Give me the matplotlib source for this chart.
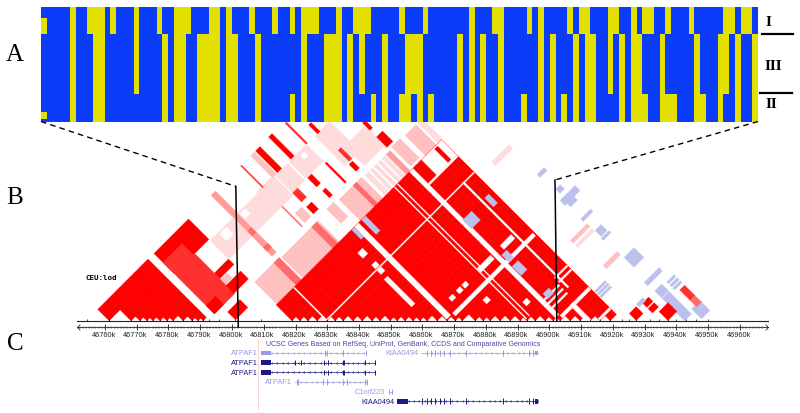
import numpy as np
import matplotlib
matplotlib.use("Agg")
import matplotlib.pyplot as plt
from matplotlib.collections import PolyCollection
from matplotlib.colors import ListedColormap
from matplotlib.path import Path

# ---------- Panel A: haplotype matrix (indices of yellow columns, per block) ----------
N_COLS = 124
BLOCK_I = [5, 8, 9, 10, 12, 16, 20, 23, 24, 25, 29, 30, 32, 36, 40, 43, 45, 46, 47, 51, 54, 55, 56,
           62, 66, 74, 78, 79, 84, 86, 91, 93, 94, 98, 99, 102, 104, 105, 108, 112, 118, 119, 121, 122]
BLOCK_III = [5, 9, 10, 16, 21, 23, 24, 27, 28, 29, 30, 32, 33, 37, 45, 49, 50, 51, 53, 55, 59,
             63, 64, 65, 72, 74, 76, 79, 86, 88, 92, 94, 95, 98, 100, 102, 103, 107, 113, 117, 118, 120, 123]
BLOCK_II = [5, 9, 10, 21, 23, 24, 27, 28, 29, 30, 32, 33, 37, 43, 45, 49, 50, 51, 53, 57, 59,
            62, 63, 65, 67, 72, 74, 76, 79, 83, 86, 88, 90, 92, 94, 95, 100, 102, 103, 104,
            107, 108, 109, 113, 114, 117, 120, 123]
ROW_GROUPS = [(BLOCK_I, 11), (BLOCK_I + [0], 16), (BLOCK_III, 59),
              (BLOCK_II, 18), (BLOCK_II + [0], 7), (BLOCK_II, 3)]

# ---------- Panel B: LD plot, genomic position in kb above 46700k ----------
SNP_LEFT = [54.3, 61.3, 68.2, 71, 73.2, 75.1, 77.3, 79.5, 81.4, 84.6, 87.4, 89.3, 90.9, 92.8]
SNP_MAIN = [109.1, 118.9, 121.4, 123.9, 126.8, 129.9, 132.5, 135, 138.1, 141, 144.1, 146.6, 149.8,
            152, 154.5, 157, 159.2, 161.4, 164.6, 167.7, 170.3, 172.5, 176.6, 179.1, 181.3, 184.4,
            187.6, 190.7, 192.9, 195.5, 198.6, 201.1, 203.3, 206.5, 209.6, 212.8, 215.9, 219.1, 222.9]
SNP_EXTRA = [96, 101, 225, 227.3, 231.7, 234.5, 237.3, 240, 243, 246, 250]

COL = dict(R="#ff0000", r="#ff3030", d="#ff6a6a", m="#ff9a9a", p="#ffc0c0", q="#ffdcdc",
           w="#ffffff", B="#bcc0ec")

# (first SNP from, to, second SNP from, to, LD class)
LD_BASE = [
    (54.3, 67.2, 96.5, 118.3, "R"), (67.2, 92.4, 96.5, 109.4, "r"), (60, 67.2, 96.5, 108.5, "r"),
    (79.5, 83, 109.4, 118.3, "R"), (87.1, 92.1, 109.1, 118.3, "R"), (83.6, 86.8, 109.4, 113.5, "p"),
    (95.9, 100.9, 101.3, 109.1, "R"), (87.1, 92.4, 96.5, 102.5, "R"), (84.6, 86.8, 90.9, 92.8, "d"),
    (54, 92.4, 132.8, 135.6, "m"), (76.7, 79.8, 132.8, 135.6, "d"), (86.8, 89.3, 132.8, 135.6, "d"),
    (67.9, 79.8, 118.3, 132.8, "q"), (68.8, 73.2, 123.3, 127.7, "w"),
    (67.9, 79.8, 135.6, 148.2, "q"), (67.2, 79.8, 148.2, 158.6, "q"), (68.8, 72, 136.2, 139.4, "w"),
    (79.8, 92.4, 151.4, 152, "d"), (54, 67.9, 151.4, 152, "r"), (54, 67.9, 157.7, 160.2, "p"),
    (54, 67.9, 160.8, 163.6, "R"), (53.7, 67.9, 169.3, 171.5, "R"), (54.6, 67.9, 178.8, 179.7, "r"),
    (67.9, 78.9, 159.2, 167, "q"), (67.9, 78.6, 168, 179, "q"), (69.5, 72, 173.4, 175.9, "w"),
    (78.9, 84.6, 168.7, 171.2, "R"), (87.7, 92.1, 169.3, 171.2, "R"), (78.9, 84.6, 159.2, 162.4, "r"),
    (87.7, 92.1, 159.2, 162.4, "R"), (86.1, 92.1, 153.6, 157.7, "p"), (79.8, 92.4, 178.8, 179.7, "R"),
    (67.9, 86.8, 184.1, 193.6, "q"), (80.5, 93, 190.4, 203, "q"),
    (79.8, 86.8, 187, 188.8, "r"), (62.5, 68.2, 185.7, 187.3, "R"), (87.7, 92.1, 186, 188.2, "R"),
    (87.7, 94.3, 203.3, 207.1, "R"), (78.9, 83.6, 203.3, 205, "R"),
    (95, 109.1, 119.2, 134.7, "p"), (95, 109.1, 131.3, 134.7, "d"),
    (95.6, 109.1, 135.6, 158.6, "p"), (95.6, 109.1, 154.5, 157.7, "d"),
    (94.7, 103.8, 164.9, 169.3, "p"), (95.6, 109.1, 171.8, 186, "p"), (95.6, 109.1, 180.6, 182.8, "d"),
    (96.2, 109.1, 187.6, 200.2, "q"), (96.2, 109.1, 190, 190.7, "w"), (96.2, 109.1, 192.5, 193.2, "w"),
    (96.2, 109.1, 195, 195.7, "w"), (96.2, 109.1, 197.5, 198.2, "w"), (96.2, 109.1, 200.8, 203.3, "m"),
    (95.6, 107.6, 204.9, 210.3, "p"), (96.2, 109.1, 212.8, 219.7, "p"), (96.5, 108.8, 220.7, 223.5, "q"),
]
LD_OVER = [
    # gaps inside the main block
    (109.1, 118.6, 210.3, 222.9, "w"), (109.8, 118.3, 217.8, 219.7, "R"),
    (109.1, 201.1, 202.7, 204.9, "w"), (109.1, 167.2, 168, 170.6, "w"),
    (109.1, 192.2, 193, 193.5, "w"), (109.1, 192.2, 194.9, 195.4, "w"),
    (129.3, 195.5, 215.9, 216.8, "w"), (109.1, 129.6, 129.6, 130.2, "w"),
    (129.3, 129.9, 130, 222.9, "w"), (167.1, 169, 171.8, 222.3, "w"),
    (135, 152.3, 160.8, 163, "w"), (201.7, 212.8, 211.2, 213.4, "w"),
    (201.7, 203.3, 204.9, 222.9, "w"), (214.7, 215.9, 215.9, 222.9, "w"),
    (118.6, 119.6, 204.9, 222.9, "w"), (118.3, 121.7, 160.8, 163.9, "w"),
    (126.5, 129, 161.4, 163.9, "w"), (130, 132.5, 161.4, 163.9, "w"),
    (161.1, 163.3, 180, 182.5, "w"), (161.1, 163.3, 183.5, 186, "w"), (161.1, 163.3, 175.3, 177.8, "w"),
    (172.5, 175, 185.4, 187.9, "w"), (185.7, 188.2, 197.3, 199.9, "w"),
    (160.8, 163.3, 193.5, 202, "w"), (160.8, 163.3, 208, 215, "w"),
    (191.4, 192.3, 204.9, 214.3, "w"), (193.8, 194.7, 204.9, 214.3, "w"), (196.4, 197.3, 204.9, 214.3, "w"),
    (187.9, 188.8, 215, 222.9, "w"), (190.4, 191.3, 215, 222.9, "w"),
    # negative-looking (low LOD) cells
    (109.1, 115.1, 166.2, 168, "B"), (109.1, 118.3, 172.5, 175, "B"),
    (141, 146.6, 204.3, 209.9, "B"), (141, 146.6, 218.1, 220.7, "B"),
    (171.2, 176.9, 205.2, 209, "B"), (164.3, 168.7, 205.5, 208.7, "B"), (189.5, 192.7, 206.3, 210, "B"),
    # right tail
    (222.9, 227.3, 227.3, 231.7, "R"), (160.5, 163.3, 243.3, 246.2, "B"), (165.5, 168.7, 241.1, 250.6, "B"),
    (168.4, 170.9, 242.4, 246.8, "B"), (177.8, 179.4, 241.8, 248.1, "B"), (150.1, 152, 242.1, 246.5, "B"),
    (186, 189.8, 242.7, 246.5, "B"), (190.4, 191.7, 242.1, 247.1, "B"), (203.6, 209.9, 243.3, 249.6, "B"),
    (217.8, 220, 241.8, 251.2, "B"), (224.8, 226, 249, 253.7, "B"), (226.7, 228, 249, 253.7, "B"),
    (228.6, 229.8, 249, 253.7, "B"), (223.8, 228.2, 242.4, 246.8, "B"), (228.5, 242.7, 242.4, 246.8, "B"),
    (241.1, 247.4, 248.4, 253.7, "B"), (231.4, 238, 250.6, 253.7, "r"), (238, 242.1, 250.6, 253.7, "d"),
    (231.7, 237.3, 237.3, 243, "R"), (223.8, 226.6, 234.8, 238.6, "R"), (227.3, 230.1, 234.8, 238.6, "R"),
    (222.2, 224.1, 232.5, 236.6, "B"), (204.9, 206, 223.5, 230.1, "B"), (206.5, 207.6, 223.5, 230.1, "B"),
    (208.1, 209.2, 223.5, 230.1, "B"), (131.8, 134.3, 231.7, 242.7, "q"), (181.3, 183.2, 231.7, 242.4, "p"),
    (184.4, 186, 231.7, 242.4, "q"), (199.5, 201.7, 234.2, 243, "p"),
]

# ---------- ruler ----------
KB_START, KB_END = 51.2, 268.8
MAJOR_KB = list(range(60, 261, 10))

# ---------- Panel C: genes (kb above 46700k) ----------
GENES = [  # name, start, end, thick spans, exons, dark?
    ("ATPAF1", 109.1, 142.2, [(109.1, 112.3)], [129.3, 129.9, 135, 142.2], False),
    ("ATPAF1", 109.1, 145, [(109.1, 112.3)], [119.8, 121.6, 129.1, 130.2, 135, 135.4, 141.9, 145], True),
    ("ATPAF1", 109.1, 145, [(109.1, 112.3)], [129.1, 130.2, 135, 135.4, 141.9, 145], True),
    ("ATPAF1", 119.9, 142.5, [], [120.4, 120.8, 128.7, 129.9, 135, 136.2, 141.9, 142.5], False),
    ("C1orf223", 149.3, 150.4, [], [149.4, 150.3], False),
    ("KIAA0494", 152.1, 196.3, [(152.1, 155.5), (195.5, 196.5)],
     [159.8, 161.3, 162.6, 164, 165.4, 166.7, 168.7, 173.7, 185.3, 193.7, 194.9], True),
]
KIAA_PALE = ("KIAA0494", 159.6, 196.3, [(195.5, 196.5)],
             [161.3, 162.6, 164, 165.4, 166.7, 168.7, 173.7, 185.3, 193.7, 194.9], False)
TRACK_TITLE = "UCSC Genes Based on RefSeq, UniProt, GenBank, CCDS and Comparative Genomics"

W, H = 800, 414
PX = 3.175               # pixels per kb
X0 = 60 - 105 / PX
X1 = 60 + (W - 105) / PX
BASE = 321.5

fig = plt.figure(figsize=(8, 4.14), dpi=100, facecolor="white")

# LD axes: height above baseline in kb, same scale as x, so the plot is a true 45 degree one
ax_ld = fig.add_axes([0, 0, 1, 1])
ax_ld.set_xlim(X0, X1)
ax_ld.set_ylim(-(H - BASE) / PX, BASE / PX)
ax_ld.axis("off")


def diamond(a0, a1, b0, b1):
    return [((a0 + b0) / 2, (b0 - a0) / 2), ((a1 + b0) / 2, (b0 - a1) / 2),
            ((a1 + b1) / 2, (b1 - a1) / 2), ((a0 + b1) / 2, (b1 - a0) / 2)]


def triangle_cells(edges):
    out = []
    for i in range(len(edges) - 1):
        for j in range(i + 1, len(edges) - 1):
            out.append(diamond(edges[i], edges[i + 1], edges[j], edges[j + 1]))
    return out


def add_cells(polys, colors, z, lw=0.15):
    ax_ld.add_collection(PolyCollection(polys, facecolors=colors, edgecolors=colors,
                                        linewidths=lw, zorder=z))


add_cells([diamond(*r[:4]) for r in LD_BASE], [COL[r[4]] for r in LD_BASE], 1)
cells = triangle_cells(SNP_LEFT) + triangle_cells(SNP_MAIN)
add_cells(cells, [COL["R"]] * len(cells), 2, lw=0.5)
add_cells([diamond(*r[:4]) for r in LD_OVER], [COL[r[4]] for r in LD_OVER], 3)

# Ruler and genes share x, y counted in image rows
ax = fig.add_axes([0, 0, 1, 1], zorder=5)
ax.patch.set_alpha(0)
ax.set_xlim(X0, X1)
ax.set_ylim(H, 0)
ax.axis("off")

GREY = "#222222"
ax.plot([KB_START, KB_END], [322.3, 322.3], color=GREY, lw=0.8)
snps = np.concatenate([SNP_LEFT, SNP_MAIN, SNP_EXTRA])
ax.vlines(snps, 319.5, 322.3, color="black", lw=0.5)

ax.plot([KB_START, KB_END], [328.3, 328.3], color=GREY, lw=0.6)
minor = np.arange(52, 268, 1.0)
ax.vlines(minor, 326.8, 329.8, color="#444444", lw=0.35)
ax.vlines(MAJOR_KB, 325.3, 331, color=GREY, lw=0.6)
ARROW_L = Path([(1, 1), (0, 0), (1, -1)], [Path.MOVETO, Path.LINETO, Path.LINETO])
ARROW_R = Path([(-1, 1), (0, 0), (-1, -1)], [Path.MOVETO, Path.LINETO, Path.LINETO])
ax.plot([KB_START], [328.3], marker=ARROW_L, ms=4, mfc="none", mec=GREY, mew=0.6)
ax.plot([KB_END], [328.3], marker=ARROW_R, ms=4, mfc="none", mec=GREY, mew=0.6)
for kb in MAJOR_KB:
    if kb <= 260:
        ax.text(kb - 0.4, 335.2, f"{46700 + kb}k", ha="center", va="center",
                fontsize=5.3, family="Liberation Sans", color="#222222")

DARK, PALE = "#1a1a82", "#9a9ade"
ROW0, ROW_H = 354.0, 9.66


def draw_gene(gene, y):
    name, start, end, thick, exons, dark = gene
    c = DARK if dark else PALE
    ax.plot([start, end], [y, y], color=c, lw=0.5)
    ticks = np.arange(start + 1.5, end, 1.7)
    if len(ticks) > 2:
        ax.plot(ticks, [y] * len(ticks), ls="none", marker=ARROW_L, ms=1.8,
                mfc="none", mec=c, mew=0.35)
    ax.vlines(exons, y - 2.8, y + 2.8, color=c, lw=0.7)
    for s, e in thick:
        ax.fill_between([s, e], y - 2.4, y + 2.4, color=c, lw=0)
    ax.text(start - 1.0, y, name, ha="right", va="center", fontsize=5.3,
            family="Liberation Sans", color=c)


for i, g in enumerate(GENES):
    draw_gene(g, ROW0 + ROW_H * i)
draw_gene(KIAA_PALE, ROW0)
ax.plot([108.2, 108.2], [341, 410], color="#f3cccc", lw=0.6)
ax.text(110.7, 345, TRACK_TITLE, ha="left", va="center", fontsize=5.0,
        family="Liberation Sans", color="#4646a6")

# Panel A on top of the LD apex
ax_h = fig.add_axes([41 / W, 1 - 122.5 / H, 717 / W, 114.5 / H], zorder=6)
rows = []
for cols, n in ROW_GROUPS:
    row = np.zeros(N_COLS, dtype=int)
    row[cols] = 1
    rows.extend([row] * n)
ax_h.imshow(np.array(rows), aspect="auto", interpolation="nearest",
            cmap=ListedColormap(["#0a3cfa", "#e4e000"]), vmin=0, vmax=1)
ax_h.axis("off")

# Annotations in image coordinates
ov = fig.add_axes([0, 0, 1, 1], zorder=7)
ov.patch.set_alpha(0)
ov.set_xlim(0, W)
ov.set_ylim(H, 0)
ov.axis("off")
ov.plot([41, 236], [122.5, 187.5], color="black", lw=1, ls=(0, (4, 3)))
ov.plot([758, 555], [122.5, 181], color="black", lw=1, ls=(0, (4, 3)))
ov.plot([235.8, 238.3], [187.5, 328], color="black", lw=1.1)
ov.plot([555, 556.8], [181, 322], color="black", lw=1.1)
for s, x, y in [("A", 15, 55), ("B", 15, 198), ("C", 15, 344)]:
    ov.text(x, y, s, ha="center", va="center", fontsize=18, family="Liberation Serif")
for s, x, y in [("I", 768, 23), ("III", 773, 66), ("II", 771, 105)]:
    ov.text(x, y, s, ha="center", va="center", fontsize=11, family="Liberation Serif",
            fontweight="bold")
ov.plot([762, 793], [34.5, 34.5], color="black", lw=1.6)
ov.plot([760, 792], [94.3, 94.3], color="black", lw=1.6)
ov.text(85, 277.7, "CEU:lod", ha="left", va="center", fontsize=5.4,
        family="DejaVu Sans Mono", fontweight="bold")

fig.savefig("out.png", dpi=100, facecolor="white")
